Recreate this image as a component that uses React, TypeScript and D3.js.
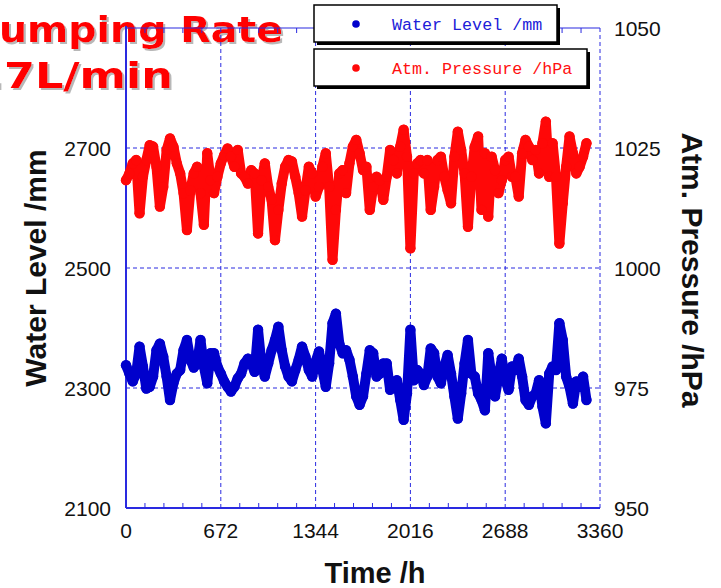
import React from 'react'
import * as d3 from 'd3'

// sampling cadence of the traced record (hours)
const STEP_H = 24

const waterLevel = [
  2338, 2324, 2311, 2324, 2369, 2336, 2299, 2302, 2319, 2363, 2374, 2352, 2319, 2280, 2308, 2324, 2330, 2363,
  2380, 2347, 2334, 2341, 2380, 2336, 2308, 2358, 2358, 2336, 2324, 2311, 2302, 2294, 2302, 2316, 2324,
  2341, 2349, 2341, 2327, 2397, 2341, 2319, 2341, 2363, 2380, 2402, 2363, 2336, 2319, 2311, 2330, 2347, 2369,
  2352, 2330, 2319, 2344, 2361, 2330, 2302, 2341, 2408, 2424, 2374, 2358, 2363, 2347, 2319, 2286, 2272, 2286,
  2324, 2363, 2358, 2319, 2324, 2341, 2341, 2297, 2308, 2313, 2280, 2247, 2291, 2397, 2313, 2330, 2324, 2305,
  2319, 2366, 2358, 2319, 2308, 2336, 2355, 2324, 2286, 2249, 2291, 2341, 2380, 2324, 2319, 2291, 2280,
  2263, 2358, 2319, 2286, 2319, 2349, 2313, 2297, 2336, 2330, 2349, 2319, 2280, 2272, 2286, 2291, 2313, 2269,
  2241, 2324, 2336, 2330, 2408, 2380, 2319, 2302, 2274, 2311, 2302, 2319, 2280,
]

const pressure = [
  1018.3, 1019.7, 1021.8, 1022.5, 1011.4, 1019.0, 1022.5, 1025.6, 1025.3, 1021.1, 1012.8, 1016.9, 1024.6,
  1027.0, 1025.3, 1021.8, 1019.7, 1015.6, 1007.9, 1016.2, 1019.7, 1021.1, 1015.6, 1009.0, 1023.9, 1018.3,
  1015.6, 1019.0, 1021.8, 1023.5, 1024.9, 1023.2, 1021.1, 1024.6, 1019.7,
  1019.0, 1017.6, 1020.4, 1019.7, 1007.2, 1018.3, 1021.8, 1016.9, 1014.2, 1005.8, 1012.1, 1017.6, 1021.1,
  1022.5, 1022.2, 1019.0, 1015.6, 1010.7, 1016.2, 1021.1, 1019.7, 1014.9, 1016.9, 1021.1, 1023.9, 1016.9,
  1001.7, 1012.1, 1019.7, 1020.4, 1015.6, 1021.8, 1025.3, 1026.7, 1023.9, 1020.4,
  1021.1, 1012.1, 1016.9, 1019.0, 1018.3, 1014.2, 1019.0, 1024.6, 1022.5, 1019.7, 1025.3, 1028.8, 1023.2,
  1004.1, 1019.7, 1021.8, 1022.5, 1019.7, 1022.5, 1012.1, 1016.9, 1022.5, 1023.2, 1019.0, 1016.2, 1013.5,
  1023.2, 1028.4, 1024.6, 1019.7, 1008.6, 1019.0, 1025.3, 1027.4, 1012.1,
  1023.9, 1010.7, 1023.2, 1020.4, 1015.6, 1018.3, 1022.5, 1023.2, 1019.0, 1019.0, 1014.9, 1023.9, 1026.7,
  1025.3, 1022.5, 1024.6, 1019.7, 1026.0, 1030.5, 1019.0, 1026.0, 1019.0, 1005.1, 1013.5, 1021.1, 1027.4,
  1023.9, 1019.7, 1021.1, 1023.2, 1026.0,
]

const xTicks = [0, 672, 1344, 2016, 2688, 3360]
const leftTicks = [2100, 2300, 2500, 2700]
const rightTicks = [950, 975, 1000, 1025, 1050]
const legendLabels = ['Water Level /mm', 'Atm. Pressure /hPa']

const W = 721
const H = 588
const left = 126
const right = 600
const top = 28
const bottom = 508

const x = d3.scaleLinear().domain([0, 3360]).range([left, right])
const yL = d3.scaleLinear().domain([2100, 2900]).range([bottom, top])
const yR = d3.scaleLinear().domain([950, 1050]).range([bottom, top])

const BLUE = '#0000cc'
const RED = '#ff0808'
const GRID = '#2a2ae0'

const minorX = d3.range(0, 3360, 134.4).filter((d) => d % 672 !== 0)

const sans = '"Liberation Sans", Arial, sans-serif'
const mono = '"Liberation Mono", "DejaVu Sans Mono", monospace'

const Series = ({ values, y, color }: { values: number[]; y: d3.ScaleLinear<number, number>; color: string }) => {
  const line = d3
    .line<number>()
    .x((d, i) => x(i * STEP_H))
    .y((d) => y(d))
  return (
    <g>
      <path d={line(values) || ''} fill="none" stroke={color} strokeWidth={10} strokeLinejoin="round" strokeLinecap="round" />
      {values.map((d, i) => (
        <circle key={i} cx={x(i * STEP_H)} cy={y(d)} r={5.2} fill={color} />
      ))}
    </g>
  )
}

export default function App() {
  return (
    <svg width={W} height={H} style={{ position: 'absolute', left: 0, top: 0, background: '#fff' }}>
      <defs>
        <filter id="titleShadow" x="-10%" y="-20%" width="130%" height="150%">
          <feOffset in="SourceAlpha" dx={2} dy={2} result="off" />
          <feFlood floodColor="#b8b8b8" />
          <feComposite in2="off" operator="in" result="shadow" />
          <feMerge>
            <feMergeNode in="shadow" />
            <feMergeNode in="SourceGraphic" />
          </feMerge>
        </filter>
      </defs>

      {/* title, its left edge runs out of the picture */}
      <g fontFamily='"DejaVu Sans", Verdana, sans-serif' fontWeight="bold" fontSize={36} fill="#ff0000" filter="url(#titleShadow)">
        <text x={-30} y={42} textLength={313} lengthAdjust="spacingAndGlyphs">Pumping Rate</text>
        <text x={-44} y={88} textLength={217} lengthAdjust="spacingAndGlyphs">0.7L/min</text>
      </g>

      {/* grid */}
      <g stroke={GRID} strokeWidth={1} strokeDasharray="4,3">
        {xTicks.slice(1, -1).map((d) => (
          <line key={d} x1={x(d)} x2={x(d)} y1={top} y2={bottom} />
        ))}
        {leftTicks.slice(1).map((d) => (
          <line key={d} x1={left} x2={right} y1={yL(d)} y2={yL(d)} />
        ))}
        <line x1={right} x2={right} y1={top} y2={bottom} />
      </g>

      {/* frame */}
      <g stroke={GRID}>
        <line x1={left} x2={left} y1={top - 2} y2={bottom} strokeWidth={2} />
        <line x1={left} x2={right} y1={bottom} y2={bottom} strokeWidth={2} />
        <line x1={left} x2={right} y1={top} y2={top} strokeWidth={1.2} />
        {minorX.map((d) => (
          <g key={d}>
            <line x1={x(d)} x2={x(d)} y1={bottom} y2={bottom - 5} strokeWidth={1} />
            <line x1={x(d)} x2={x(d)} y1={top} y2={top + 5} strokeWidth={1} />
          </g>
        ))}
      </g>

      <Series values={pressure} y={yR} color={RED} />
      <Series values={waterLevel} y={yL} color={BLUE} />

      {/* tick labels */}
      <g fontFamily={sans} fontSize={21} fill="#111">
        {xTicks.map((d) => (
          <text key={d} x={x(d)} y={538} textAnchor="middle">{d}</text>
        ))}
        {leftTicks.map((d) => (
          <text key={d} x={111} y={yL(d)} dy="0.36em" textAnchor="end">{d}</text>
        ))}
        {rightTicks.map((d) => (
          <text key={d} x={614} y={yR(d)} dy="0.36em" textAnchor="start">{d}</text>
        ))}
      </g>

      {/* axis titles */}
      <g fontFamily={sans} fontWeight="bold" fontSize={30} fill="#111" textAnchor="middle">
        <text x={375} y={583} fontSize={29}>Time /h</text>
        <text transform="translate(46,268) rotate(-90)">Water Level /mm</text>
        <text transform="translate(682,270) rotate(90)">Atm. Pressure /hPa</text>
      </g>

      {/* legend */}
      {legendLabels.map((label, i) => {
        const by = i === 0 ? 5 : 49
        const bw = i === 0 ? 243 : 273
        const color = i === 0 ? '#2020d8' : '#ff1010'
        return (
          <g key={label}>
            <rect x={317} y={by + 3} width={bw} height={37} fill="#000" />
            <rect x={314} y={by} width={bw} height={37} fill="#fff" stroke="#000" strokeWidth={1.5} />
            <circle cx={356} cy={by + 19} r={3.8} fill={i === 0 ? BLUE : RED} />
            <text x={392} y={by + 25} fontFamily={mono} fontSize={16.7} fill={color}>{label}</text>
          </g>
        )
      })}
    </svg>
  )
}
